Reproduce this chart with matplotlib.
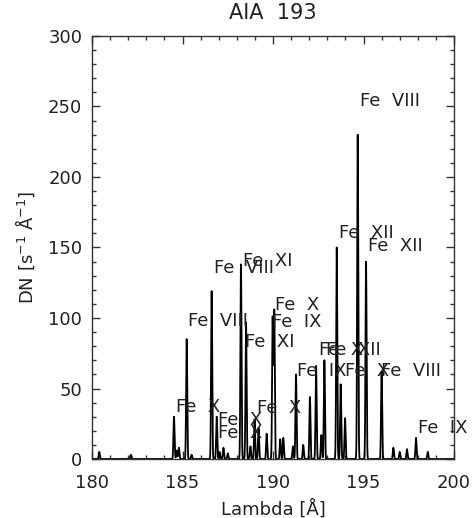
import numpy as np
import matplotlib
matplotlib.use('Agg')
import matplotlib.pyplot as plt
from matplotlib.ticker import MultipleLocator

# line list (centre wavelength [A], peak DN/s/A)
line_wave = [180.40, 182.15, 184.53, 184.68, 184.80, 185.23, 185.50,
             186.61, 186.89, 187.05, 187.26, 187.50, 188.23, 188.51,
             188.75, 188.98, 189.20, 189.65, 189.98, 190.07, 190.40,
             190.57, 191.10, 191.27, 191.67, 192.04, 192.38, 192.67,
             192.84, 193.52, 193.74, 193.98, 194.68, 195.14, 196.00,
             196.65, 197.00, 197.40, 197.90, 198.55]
line_peak = [5, 3, 30, 6, 8, 85, 3,
             119, 30, 5, 8, 4, 138, 97,
             9, 28, 22, 18, 100, 105, 14,
             15, 9, 60, 10, 44, 66, 17,
             70, 150, 53, 29, 230, 140, 62,
             8, 5, 7, 15, 5]
line_width = 0.03   # gaussian sigma [A]

# ion labels: text, wavelength, DN (left/baseline anchor)
lab_text = ['Fe  VIII', 'Fe  XII', 'Fe  XII', 'Fe  VIII', 'Fe  XI',
            'Fe  X', 'Fe  IX', 'Fe  VIII', 'Fe  XI', 'Fe  X',
            'Fe  X', 'Fe  X', 'Fe  X', 'Fe  IX', 'Fe  XI',
            'Fe  XII', 'Fe  X', 'Fe  VIII', 'Fe  IX']
lab_x = [194.81, 193.65, 195.25, 186.74, 188.34,
         190.11, 189.94, 185.30, 188.45, 184.64,
         186.96, 186.96, 189.12, 191.33, 192.54,
         192.93, 193.98, 195.97, 198.01]
lab_y = [250, 157, 147.5, 132, 137,
         106, 93.6, 94.3, 79.4, 33.3,
         24.1, 14.9, 32.6, 58.9, 73.8,
         73.8, 58.9, 58.9, 18.4]

wave = np.arange(180.0, 200.0, 0.005)
flux = np.zeros_like(wave)
for w, p in zip(line_wave, line_peak):
    flux += p * np.exp(-0.5 * ((wave - w) / line_width) ** 2)

plt.rcParams['font.family'] = 'DejaVu Sans'
fig = plt.figure(figsize=(4.73, 5.18), dpi=100)
ax = fig.add_axes([92/473, 1 - 459/518, 362/473, 423/518])

ax.plot(wave, flux, color='black', lw=1.3)
for s, x, y in zip(lab_text, lab_x, lab_y):
    ax.text(x, y, s, fontsize=13, ha='left', va='baseline', color='#222222')

ax.set_xlim(180, 200)
ax.set_ylim(0, 300)
ax.xaxis.set_major_locator(MultipleLocator(5))
ax.xaxis.set_minor_locator(MultipleLocator(1))
ax.yaxis.set_major_locator(MultipleLocator(50))
ax.yaxis.set_minor_locator(MultipleLocator(10))
ax.tick_params(which='both', direction='in', top=True, right=True,
               color='#333333', labelsize=13, labelcolor='#222222')
ax.tick_params(which='major', length=6, width=1)
ax.tick_params(which='minor', length=3, width=1)
ax.tick_params(axis='x', pad=11)
ax.tick_params(axis='y', pad=7)
for sp in ax.spines.values():
    sp.set_color('#333333')
    sp.set_linewidth(1)

ax.set_xlabel('Lambda [Å]', fontsize=13, labelpad=5, color='#222222')
ax.set_ylabel('DN [s$^{-1}$ Å$^{-1}$]', fontsize=13, labelpad=8,
              color='#222222')
ax.set_title('AIA  193', fontsize=15, pad=12, color='#222222')

fig.savefig('out.png', dpi=100)
